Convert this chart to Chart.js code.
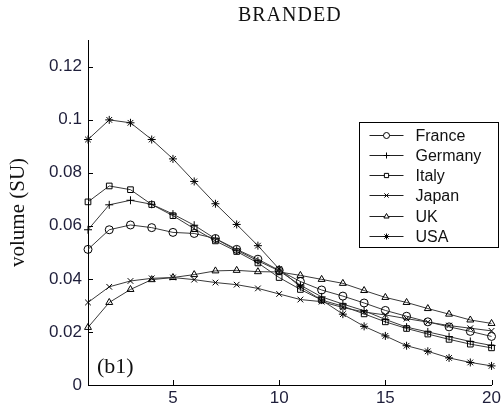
<!DOCTYPE html>
<html>
<head>
<meta charset="utf-8">
<script src="https://cdn.jsdelivr.net/npm/chart.js@4/dist/chart.umd.min.js"></script>
<style>
    html, body { margin: 0; padding: 0; background: #fff; }
    canvas { display: block; }
</style>
</head>
<body>
<canvas id="grafico" width="504" height="408"></canvas>
<script>
// ======================== DADOS ========================
const periodos = [1, 2, 3, 4, 5, 6, 7, 8, 9, 10, 11, 12, 13, 14, 15, 16, 17, 18, 19, 20];
const paises = ['France', 'Germany', 'Italy', 'Japan', 'UK', 'USA'];
const marcadores = ['circle', 'cross', 'rect', 'crossRot', 'triangle', 'star'];

const france = [0.0511, 0.0585, 0.0603, 0.0593, 0.0575, 0.0571, 0.0552, 0.0511, 0.0474, 0.0432, 0.0390, 0.0358, 0.0335, 0.0309, 0.0281, 0.0259, 0.0238, 0.0219, 0.0202, 0.0183];
const germany = [0.0585, 0.0679, 0.0696, 0.0681, 0.0644, 0.0602, 0.0551, 0.0508, 0.0468, 0.0430, 0.0376, 0.0332, 0.0305, 0.0280, 0.0247, 0.0218, 0.0200, 0.0182, 0.0164, 0.0149];
const italy = [0.0690, 0.0750, 0.0736, 0.0680, 0.0638, 0.0589, 0.0543, 0.0503, 0.0460, 0.0405, 0.0360, 0.0320, 0.0297, 0.0268, 0.0238, 0.0213, 0.0192, 0.0172, 0.0154, 0.0140];
const japan = [0.0311, 0.0370, 0.0392, 0.0402, 0.0405, 0.0397, 0.0386, 0.0378, 0.0364, 0.0343, 0.0322, 0.0314, 0.0292, 0.0275, 0.0264, 0.0250, 0.0237, 0.0224, 0.0214, 0.0204];
const uk = [0.0217, 0.0311, 0.0360, 0.0397, 0.0405, 0.0416, 0.0430, 0.0432, 0.0427, 0.0426, 0.0413, 0.0398, 0.0383, 0.0356, 0.0330, 0.0311, 0.0288, 0.0267, 0.0245, 0.0232];
const usa = [0.0925, 0.0999, 0.0988, 0.0925, 0.0852, 0.0767, 0.0683, 0.0605, 0.0525, 0.0437, 0.0370, 0.0320, 0.0267, 0.0221, 0.0185, 0.0148, 0.0127, 0.0102, 0.0085, 0.0072];

const series = [france, germany, italy, japan, uk, usa];
const ticksX = [5, 10, 15, 20];
const ticksY = [0, 0.02, 0.04, 0.06, 0.08, 0.1, 0.12];

const titulo = 'BRANDED';
const tituloY = 'volume (SU)';
const rotuloPainel = '(b1)';

const corTexto = '#1e1e3a';
const fonteSans = '"Liberation Sans", Arial, sans-serif';
const fonteSerif = '"Liberation Serif", "Times New Roman", serif';

// ======================== PLUGIN: TEXTOS, TICKS E LEGENDA ========================
const extras = {
    id: 'extras',
    afterDraw(chart) {
        const { ctx, chartArea: area, scales } = chart;
        ctx.save();

        // ticks para dentro (estilo matlab)
        ctx.strokeStyle = '#000';
        ctx.lineWidth = 1;
        ctx.beginPath();
        ticksY.forEach((v) => {
            const py = Math.round(scales.y.getPixelForValue(v)) + 0.5;
            ctx.moveTo(area.left, py);
            ctx.lineTo(area.left + 5, py);
        });
        ticksX.forEach((v) => {
            const px = Math.round(scales.x.getPixelForValue(v)) + 0.5;
            ctx.moveTo(px, area.bottom);
            ctx.lineTo(px, area.bottom - 5);
        });
        ctx.stroke();

        // titulo
        ctx.fillStyle = '#111';
        ctx.font = '20px ' + fonteSerif;
        ctx.letterSpacing = '1px';
        ctx.textAlign = 'center';
        ctx.textBaseline = 'alphabetic';
        ctx.fillText(titulo, (area.left + area.right) / 2, 21);
        ctx.letterSpacing = '0px';

        // titulo eixo y
        ctx.save();
        ctx.translate(24, (area.top + area.bottom) / 2);
        ctx.rotate(-Math.PI / 2);
        ctx.font = '21px ' + fonteSerif;
        ctx.textAlign = 'center';
        ctx.fillText(tituloY, 0, 0);
        ctx.restore();

        // rotulo do painel
        ctx.font = '22px ' + fonteSerif;
        ctx.textAlign = 'left';
        ctx.fillText(rotuloPainel, area.left + 9, area.bottom - 12);

        // legenda
        const lx = 359.5, ly = 122.5, lw = 139, lh = 125;
        ctx.fillStyle = '#fff';
        ctx.fillRect(lx, ly, lw, lh);
        ctx.strokeStyle = '#000';
        ctx.strokeRect(lx, ly, lw, lh);
        ctx.font = '16px ' + fonteSans;
        ctx.textBaseline = 'middle';
        paises.forEach((nome, i) => {
            const y = Math.round(ly + 12 + i * 20.3) + 0.5;
            ctx.strokeStyle = '#222';
            ctx.beginPath();
            ctx.moveTo(lx + 10, y);
            ctx.lineTo(lx + 44, y);
            ctx.stroke();
            ctx.strokeStyle = '#000';
            ctx.fillStyle = '#fff';
            Chart.helpers.drawPoint(ctx, { pointStyle: marcadores[i], radius: 3, rotation: 0, borderWidth: 1 }, lx + 27, y);
            ctx.fillStyle = '#111';
            ctx.fillText(nome, lx + 56, y + 1);
        });

        ctx.restore();
    },
};

// ======================== GRAFICO ========================
new Chart(document.getElementById('grafico'), {
    type: 'line',
    data: {
        datasets: paises.map((nome, i) => ({
            label: nome,
            data: series[i].map((v, k) => ({ x: periodos[k], y: v })),
            borderColor: '#3a3a3a',
            borderWidth: 1,
            pointStyle: marcadores[i],
            pointRadius: 4,
            pointBorderColor: '#000',
            pointBackgroundColor: 'rgba(0,0,0,0)',
            pointBorderWidth: 1,
            tension: 0,
            clip: false,
        })),
    },
    options: {
        responsive: false,
        devicePixelRatio: 1,
        animation: false,
        layout: { padding: { top: 40, right: 12, left: 0, bottom: 0 } },
        plugins: {
            legend: { display: false },
            tooltip: { enabled: false },
        },
        scales: {
            x: {
                type: 'linear',
                min: 1,
                max: 20,
                afterBuildTicks: (s) => { s.ticks = ticksX.map((v) => ({ value: v })); },
                afterFit: (s) => { s.height = 23; },
                grid: { display: false, drawTicks: false },
                border: { display: true, color: '#000', width: 1 },
                ticks: { color: corTexto, font: { family: fonteSans, size: 17 }, padding: 3, maxRotation: 0 },
            },
            y: {
                min: 0,
                max: 0.13,
                afterBuildTicks: (s) => { s.ticks = ticksY.map((v) => ({ value: v })); },
                afterFit: (s) => { s.width = 88; },
                grid: { display: false, drawTicks: false },
                border: { display: true, color: '#000', width: 1 },
                ticks: {
                    color: corTexto,
                    font: { family: fonteSans, size: 17 },
                    padding: 6,
                    callback: (v) => String(+v.toFixed(2)),
                },
            },
        },
    },
    plugins: [extras],
});
</script>
</body>
</html>
